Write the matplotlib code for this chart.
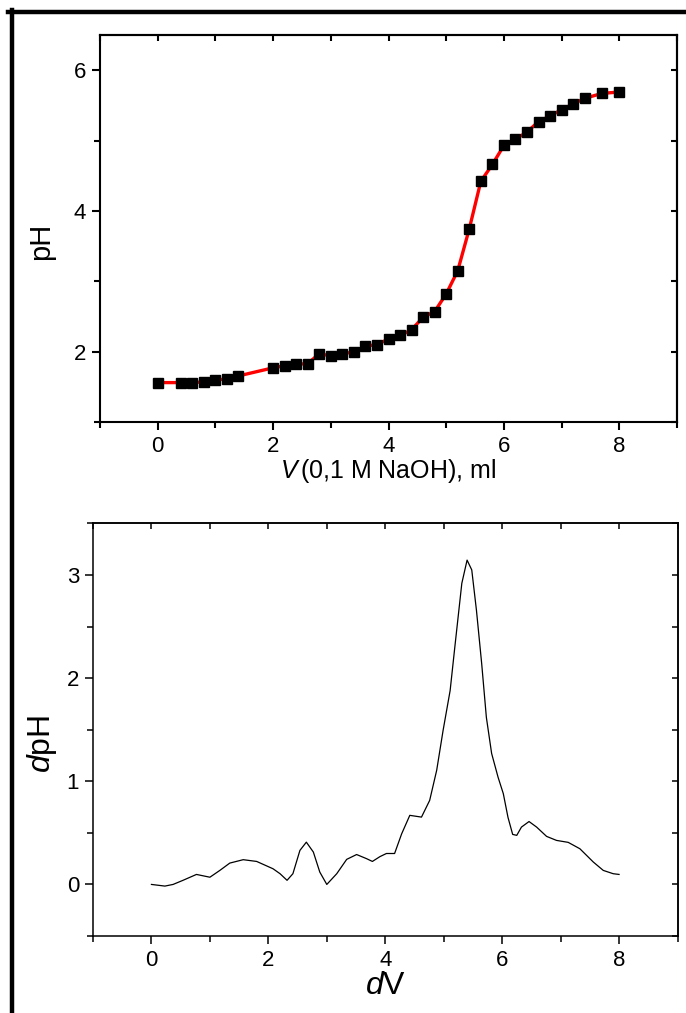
import matplotlib
matplotlib.use("Agg")
import matplotlib.pyplot as plt
from matplotlib.lines import Line2D
from matplotlib.ticker import MultipleLocator

plt.rcParams['font.family'] = ['Liberation Sans', 'DejaVu Sans']
plt.rcParams['mathtext.fontset'] = 'custom'
plt.rcParams['mathtext.rm'] = 'Liberation Sans'
plt.rcParams['mathtext.it'] = 'Liberation Sans:italic'

# ---- titration curve data ----
volume_ml = [0.0, 0.4, 0.6, 0.8, 1.0, 1.2, 1.4, 2.0, 2.2, 2.4, 2.6, 2.8, 3.0, 3.2,
             3.4, 3.6, 3.8, 4.0, 4.2, 4.4, 4.6, 4.8, 5.0, 5.2, 5.4, 5.6, 5.8, 6.0,
             6.2, 6.4, 6.6, 6.8, 7.0, 7.2, 7.4, 7.7, 8.0]
ph_values = [1.56, 1.56, 1.56, 1.57, 1.60, 1.61, 1.655, 1.77, 1.80, 1.82, 1.83,
             1.97, 1.94, 1.97, 1.995, 2.08, 2.10, 2.18, 2.23, 2.31, 2.49, 2.57,
             2.82, 3.15, 3.745, 4.42, 4.66, 4.93, 5.02, 5.12, 5.27, 5.35, 5.44,
             5.52, 5.60, 5.67, 5.69]

# ---- derivative curve (traced) ----
deriv_v = [0.0, 0.23, 0.37, 0.54, 0.77, 1.0, 1.17, 1.34, 1.57, 1.80, 2.08, 2.20,
           2.32, 2.42, 2.54, 2.65, 2.77, 2.88, 3.0, 3.17, 3.34, 3.51, 3.68, 3.78,
           3.91, 4.02, 4.16, 4.28, 4.42, 4.62, 4.76, 4.88, 4.99, 5.11, 5.19, 5.31,
           5.40, 5.48, 5.56, 5.65, 5.73, 5.82, 5.93, 6.02, 6.10, 6.18, 6.25, 6.33,
           6.46, 6.59, 6.76, 6.93, 7.13, 7.33, 7.56, 7.73, 7.90, 8.0]
deriv_ph = [0.0, -0.016, 0.0, 0.04, 0.097, 0.07, 0.136, 0.207, 0.24, 0.223, 0.152,
            0.104, 0.04, 0.104, 0.33, 0.41, 0.314, 0.12, 0.0, 0.104, 0.243, 0.29,
            0.25, 0.223, 0.27, 0.30, 0.30, 0.49, 0.67, 0.653, 0.815, 1.107, 1.495,
            1.88, 2.30, 2.92, 3.145, 3.05, 2.66, 2.14, 1.62, 1.27, 1.04, 0.88, 0.65,
            0.485, 0.476, 0.556, 0.61, 0.556, 0.466, 0.427, 0.408, 0.346, 0.217,
            0.136, 0.104, 0.097]

x_major_ticks = [0, 2, 4, 6, 8]
top_y_ticks = [2, 4, 6]
bottom_y_ticks = [0, 1, 2, 3]

W, H = 686, 1013
fig = plt.figure(figsize=(W / 100, H / 100), dpi=100)


def style_axes(ax, lw):
    for s in ax.spines.values():
        s.set_linewidth(lw)
    ax.tick_params(which='major', direction='out', length=6, width=lw,
                   labelsize=16, top=False, right=False, pad=4)
    ax.tick_params(which='minor', direction='out', length=4, width=lw,
                   top=False, right=False)
    secx = ax.secondary_xaxis('top')
    secx.xaxis.set_major_locator(MultipleLocator(1))
    secx.tick_params(which='major', direction='in', length=4, width=lw,
                     labeltop=False)
    secx.spines['top'].set_linewidth(lw)
    secy = ax.secondary_yaxis('right')
    secy.tick_params(which='major', direction='in', length=4, width=lw,
                     labelright=False)
    secy.spines['right'].set_linewidth(lw)
    return secx, secy


# ---- top axes ----
ax1 = fig.add_axes([100 / W, 1 - 422 / H, (677 - 100) / W, (422 - 35) / H])
ax1.plot(volume_ml, ph_values, color='red', lw=2.4, zorder=2)
ax1.plot(volume_ml, ph_values, ls='none', marker='s', ms=6.8, color='black',
         zorder=3)
ax1.set_xlim(-1, 9)
ax1.set_ylim(1, 6.5)
ax1.set_xticks(x_major_ticks)
ax1.set_yticks(top_y_ticks)
ax1.xaxis.set_minor_locator(MultipleLocator(1))
ax1.yaxis.set_minor_locator(MultipleLocator(1))
sx1, sy1 = style_axes(ax1, 1.5)
sy1.yaxis.set_major_locator(MultipleLocator(1))
ax1.set_xlabel(r'$\mathit{V}\,$(0,1 M NaOH), ml', fontsize=18, labelpad=0)
ax1.set_ylabel('pH', fontsize=21, va='center')
ax1.yaxis.set_label_coords(-0.102, 0.468)

# ---- bottom axes ----
ax2 = fig.add_axes([93 / W, 1 - 936 / H, (677.5 - 93) / W, (936 - 523.5) / H])
ax2.plot(deriv_v, deriv_ph, color='black', lw=0.9)
ax2.set_xlim(-1, 9)
ax2.set_ylim(-0.5, 3.5)
ax2.set_xticks(x_major_ticks)
ax2.set_yticks(bottom_y_ticks)
ax2.xaxis.set_minor_locator(MultipleLocator(1))
ax2.yaxis.set_minor_locator(MultipleLocator(0.5))
sx2, sy2 = style_axes(ax2, 1.1)
sy2.yaxis.set_major_locator(MultipleLocator(0.5))
ax2.set_xlabel(r'$\mathit{d}$V', fontsize=23, labelpad=0)
ax2.set_ylabel(r'$\mathit{d}$pH', fontsize=23, va='center')
ax2.yaxis.set_label_coords(-0.087, 0.465)

# ---- frame lines (top and left) ----
fig.add_artist(Line2D([8 / W, 1.0], [1 - 12 / H, 1 - 12 / H], color='black',
                      lw=3.2, transform=fig.transFigure))
fig.add_artist(Line2D([12 / W, 12 / W], [1 - 10 / H, 0.0], color='black',
                      lw=3.2, transform=fig.transFigure))

fig.savefig('out.png', dpi=100)
